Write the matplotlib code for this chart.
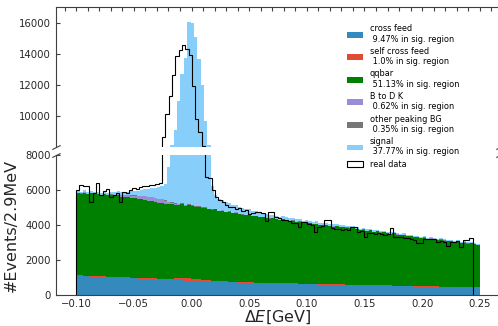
import numpy as np
import matplotlib.pyplot as plt
from matplotlib.ticker import MultipleLocator

# bin layout: 120 bins of ~2.9 MeV
edges = np.linspace(-0.1, 0.25, 121)
centers = (edges[:-1] + edges[1:]) / 2
data_edges = np.linspace(-0.1, 0.2438, 121)
data_centers = (data_edges[:-1] + data_edges[1:]) / 2

# stacked MC components (events per bin)
cross_feed = [1090, 1085, 1070, 1068, 1052, 1050, 1038, 1034, 1020, 1016,
              1005, 1000, 985, 982, 968, 965, 952, 948, 935, 931,
              920, 914, 900, 897, 884, 880, 868, 864, 850, 847,
              836, 830, 816, 812, 800, 796, 785, 783, 772, 770,
              761, 757, 746, 744, 733, 731, 720, 718, 707, 705,
              696, 692, 681, 679, 668, 668, 660, 660, 652, 652,
              646, 644, 636, 636, 628, 628, 620, 620, 612, 612,
              606, 603, 595, 595, 587, 587, 579, 579, 571, 571,
              565, 563, 555, 555, 547, 547, 539, 539, 530, 530,
              524, 522, 514, 514, 506, 506, 498, 498, 490, 490,
              484, 482, 473, 473, 465, 465, 457, 457, 449, 449,
              443, 441, 433, 433, 424, 424, 416, 416, 408, 408]
self_cross_feed = [38, 36, 40, 37, 39, 35, 38, 36, 40, 37,
                   39, 36, 38, 40, 37, 39, 41, 38, 40, 42,
                   44, 46, 48, 50, 55, 60, 66, 74, 84, 96,
                   108, 120, 130, 136, 134, 126, 114, 100, 86, 72,
                   60, 52, 46, 42, 40, 38, 37, 36, 35, 35,
                   36, 34, 35, 33, 35, 34, 36, 33, 34, 35,
                   34, 33, 35, 34, 32, 34, 33, 35, 32, 34,
                   33, 34, 32, 33, 35, 32, 34, 33, 32, 34,
                   33, 32, 34, 33, 31, 33, 32, 34, 31, 33,
                   32, 33, 31, 32, 34, 31, 33, 32, 31, 33,
                   32, 31, 33, 32, 30, 32, 31, 33, 30, 32,
                   31, 32, 30, 31, 33, 30, 32, 31, 30, 32]
qqbar = [4700, 4660, 4740, 4650, 4720, 4680, 4700, 4630, 4690, 4650,
         4675, 4640, 4690, 4600, 4610, 4580, 4560, 4540, 4500, 4490,
         4460, 4430, 4410, 4370, 4323, 4330, 4280, 4250, 4260, 4220,
         4204, 4230, 4160, 4190, 4140, 4120, 4150, 4090, 4110, 4070,
         4059, 4090, 4010, 4040, 3965, 3990, 3930, 3960, 3880, 3850,
         3824, 3860, 3770, 3800, 3740, 3760, 3690, 3672, 3700, 3640,
         3614, 3650, 3580, 3560, 3590, 3510, 3540, 3442, 3490, 3450,
         3404, 3430, 3380, 3350, 3390, 3320, 3300, 3340, 3270, 3290,
         3245, 3210, 3250, 3180, 3111, 3150, 3090, 3120, 3050, 3070,
         3006, 3030, 2980, 2950, 2990, 2920, 2880, 2910, 2850, 2830,
         2776, 2800, 2750, 2770, 2700, 2730, 2690, 2650, 2680, 2620,
         2587, 2610, 2560, 2580, 2520, 2540, 2490, 2510, 2460, 2414]
b_to_dk = [8, 10, 9, 11, 10, 12, 10, 11, 13, 12,
           20, 30, 50, 70, 90, 110, 130, 150, 170, 190,
           210, 220, 230, 230, 220, 200, 170, 130, 90, 60,
           40, 25, 15, 10, 8, 8, 6, 6, 5, 5,
           5, 6, 5, 4, 5, 5, 4, 5, 6, 5,
           5, 4, 5, 5, 4, 5, 5, 4, 5, 5,
           4, 5, 5, 4, 5, 4, 5, 5, 4, 5,
           4, 5, 4, 5, 4, 5, 4, 4, 5, 4,
           4, 5, 4, 4, 5, 4, 4, 5, 4, 4,
           4, 4, 5, 4, 4, 4, 5, 4, 4, 4,
           4, 4, 4, 5, 4, 4, 4, 4, 4, 4,
           4, 4, 4, 4, 4, 4, 4, 4, 4, 4]
other_peaking = [14, 15, 13, 16, 14, 15, 13, 14, 16, 15,
                 14, 15, 16, 14, 15, 16, 15, 16, 17, 16,
                 17, 18, 18, 19, 20, 21, 22, 24, 27, 30,
                 34, 38, 42, 44, 44, 40, 36, 32, 28, 24,
                 21, 19, 17, 16, 15, 15, 14, 15, 14, 14,
                 15, 14, 13, 14, 15, 13, 14, 14, 13, 14,
                 13, 14, 13, 14, 13, 13, 14, 13, 13, 14,
                 13, 13, 14, 13, 12, 13, 13, 14, 12, 13,
                 13, 12, 13, 13, 12, 13, 12, 13, 13, 12,
                 12, 13, 12, 13, 12, 12, 13, 12, 12, 13,
                 12, 12, 13, 12, 12, 12, 13, 12, 12, 12,
                 12, 12, 12, 13, 12, 12, 12, 12, 12, 12]
signal = [90, 95, 100, 100, 105, 110, 110, 115, 120, 125,
          130, 140, 150, 165, 180, 200, 230, 260, 300, 340,
          390, 440, 500, 570, 650, 760, 920, 1950, 2790, 3815,
          5750, 7450, 8540, 10820, 10830, 9960, 8540, 7000, 4640, 3190,
          1320, 800, 680, 600, 550, 500, 450, 410, 370, 340,
          310, 290, 270, 250, 235, 220, 210, 200, 190, 180,
          170, 165, 160, 155, 150, 145, 140, 135, 130, 125,
          120, 118, 115, 112, 110, 108, 105, 102, 100, 98,
          96, 94, 92, 90, 88, 86, 84, 82, 80, 78,
          77, 76, 75, 74, 73, 72, 71, 70, 69, 68,
          67, 66, 65, 64, 63, 62, 61, 60, 59, 58,
          57, 56, 55, 54, 53, 52, 51, 50, 49, 48]
real_data = [6000, 6290, 6200, 6250, 5330, 5830, 6400, 5700, 5950, 6050,
             5620, 5700, 5850, 5330, 5900, 5850, 6000, 6100, 6050, 6150,
             6200, 6250, 6280, 6300, 6330, 6380, 8620, 10100, 11270, 12660,
             13830, 14250, 14570, 14320, 13940, 11900, 9790, 8950, 8090, 6760,
             6700, 6000, 5620, 5430, 5300, 5150, 5000, 5050, 4900, 4950,
             4800, 4850, 4600, 4700, 4750, 4720, 4680, 4200, 4750, 4770,
             4450, 4380, 4300, 4290, 4200, 4100, 4120, 3900, 4190, 4150,
             4050, 4000, 3620, 3900, 3920, 4290, 4280, 3810, 3800, 3760,
             3720, 3750, 3730, 3900, 3880, 3620, 3640, 3330, 3530, 3550,
             3500, 3540, 3480, 3450, 3470, 3810, 3330, 3340, 3300, 3240,
             3250, 3220, 3140, 2950, 2970, 3200, 3190, 3210, 3180, 3050,
             3060, 3050, 2800, 3050, 3040, 3060, 2760, 3140, 3150, 3230]

labels = ['cross feed\n 9.47% in sig. region',
          'self cross feed\n 1.0% in sig. region',
          'qqbar\n 51.13% in sig. region',
          'B to D K\n 0.62% in sig. region',
          'other peaking BG\n 0.35% in sig. region',
          'signal\n 37.77% in sig. region']
colors = ['#348ABD', '#E24A33', 'green', '#988ED5', '#777777', 'lightskyblue']

text_col = '0.15'
fig = plt.figure(figsize=(4.98, 3.26), dpi=100)
ax_top = fig.add_axes([56/498, 1 - 147/326, 444/498, 140/326])
ax_bot = fig.add_axes([56/498, 1 - 295/326, 444/498, 140/326])

for ax in (ax_top, ax_bot):
    ax.hist([centers] * 6, bins=edges, weights=[cross_feed, self_cross_feed, qqbar, b_to_dk, other_peaking, signal],
            stacked=True, histtype='stepfilled', color=colors, label=labels, linewidth=0)
    ax.hist(data_centers, bins=data_edges, weights=real_data, histtype='step', color='k', lw=0.8, label='real data')
    ax.set_xlim(-0.1175, 0.2675)
    for s in ax.spines.values():
        s.set_color('0.25')
        s.set_linewidth(0.8)
    ax.tick_params(axis='y', which='both', direction='in', length=3, labelsize=7.3, labelcolor=text_col, color='0.25')

ax_top.set_ylim(8000, 17000)
ax_bot.set_ylim(0, 8000)
ax_top.set_yticks([10000, 12000, 14000, 16000])
ax_bot.set_yticks([0, 2000, 4000, 6000, 8000])
ax_top.spines['bottom'].set_visible(False)
ax_bot.spines['top'].set_visible(False)

ax_top.xaxis.set_major_locator(MultipleLocator(0.01))
ax_top.tick_params(axis='x', which='both', bottom=False, labelbottom=False, top=True,
                   direction='in', length=3, color='0.25')
ax_bot.xaxis.set_major_locator(MultipleLocator(0.05))
ax_bot.tick_params(axis='x', length=0, pad=3, labelsize=7.3, labelcolor=text_col)

ax_bot.set_xlabel(r'$\Delta E$[GeV]', fontsize=11.5, color=text_col, labelpad=-0.5)
ax_bot.set_ylabel('#Events/2.9MeV', fontsize=11.5, color=text_col, labelpad=5)

# break marks
d = .5
kw = dict(marker=[(-1, -d), (1, d)], markersize=6, linestyle='none', color='0.25', mec='0.25', mew=0.8, clip_on=False)
ax_top.plot([0, 1], [0, 0], transform=ax_top.transAxes, **kw)
ax_bot.plot([0, 1], [1, 1], transform=ax_bot.transAxes, **kw)

# legend: stacked components in drawing order, then data
handles, labs = ax_top.get_legend_handles_labels()
order = [5, 4, 3, 2, 1, 0, 6] if labs[0].startswith('signal') else list(range(7))
handles = [handles[i] for i in order]
labs = [labs[i] for i in order]
fig.legend(handles, labs, loc='upper left', bbox_to_anchor=(0.690, 0.935), fontsize=5.9, frameon=False,
           labelspacing=0.38, borderaxespad=0)

fig.savefig('out.png', dpi=100)
